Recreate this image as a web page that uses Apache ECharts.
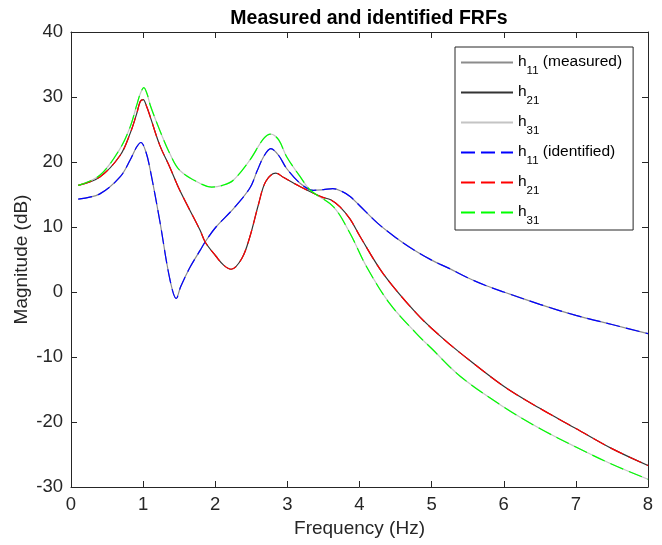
<!DOCTYPE html>
<html>
<head>
<meta charset="utf-8">
<style>
  html, body { margin: 0; padding: 0; background: #ffffff; }
  #chart { width: 662px; height: 545px; }
</style>
<script src="https://cdn.jsdelivr.net/npm/echarts@6/dist/echarts.min.js"></script>
</head>
<body>
<div id="chart"></div>
<script>
// ---- data ----
const xTicks = [0, 1, 2, 3, 4, 5, 6, 7, 8];
const yTicks = [-30, -20, -10, 0, 10, 20, 30, 40];

const h11Freq = [0.1, 0.4, 0.68, 0.82, 0.91, 0.97, 1.04, 1.1, 1.23, 1.37, 1.46, 1.52, 1.65, 1.79, 1.86, 2.01, 2.25, 2.48, 2.58, 2.67, 2.77, 2.88, 2.99, 3.18, 3.36, 3.5, 3.63, 3.75, 3.87, 4.0, 4.25, 4.5, 4.75, 5.0, 5.25, 5.5, 5.75, 6.0, 6.5, 7.0, 7.5, 8.0];
const h11Mag  = [14.3, 15.1, 17.7, 20.3, 22.3, 23.0, 21.5, 18.7, 11.0, 2.0, -1.0, 0.8, 3.8, 6.4, 7.7, 10.0, 12.8, 16.0, 18.6, 20.8, 22.05, 21.0, 19.0, 16.7, 15.65, 15.75, 15.9, 15.5, 14.7, 13.3, 10.6, 8.4, 6.5, 4.9, 3.6, 2.2, 1.0, 0.0, -1.9, -3.6, -5.0, -6.4];

const h21Freq = [0.1, 0.4, 0.68, 0.82, 0.91, 0.96, 1.0, 1.05, 1.1, 1.23, 1.37, 1.51, 1.79, 1.86, 2.01, 2.12, 2.22, 2.37, 2.48, 2.6, 2.7, 2.84, 2.95, 3.18, 3.48, 3.6, 3.73, 3.87, 4.01, 4.33, 4.79, 5.1, 5.4, 6.0, 6.5, 7.0, 7.5, 8.0];
const h21Mag  = [16.4, 17.7, 21.0, 24.4, 27.4, 29.3, 29.6, 28.5, 26.9, 22.6, 19.2, 15.6, 9.5, 7.7, 5.5, 4.1, 3.5, 5.2, 8.5, 13.5, 17.0, 18.3, 17.6, 16.2, 14.6, 14.2, 13.1, 11.2, 8.5, 2.8, -3.3, -6.6, -9.4, -14.5, -17.9, -21.0, -24.1, -26.7];

const h31Freq = [0.1, 0.4, 0.68, 0.82, 0.91, 0.96, 1.01, 1.06, 1.1, 1.23, 1.37, 1.51, 1.79, 1.95, 2.1, 2.25, 2.48, 2.67, 2.77, 2.88, 2.99, 3.18, 3.32, 3.64, 3.87, 4.1, 4.42, 4.79, 5.0, 5.4, 6.0, 6.5, 7.0, 7.5, 8.0];
const h31Mag  = [16.4, 17.95, 22.05, 25.4, 28.7, 30.5, 31.45, 30.3, 28.7, 24.9, 21.3, 18.7, 16.7, 16.15, 16.4, 17.2, 20.3, 23.6, 24.3, 23.4, 20.8, 17.7, 15.65, 13.1, 9.0, 3.85, -1.8, -6.4, -8.7, -13.0, -17.7, -21.0, -23.85, -26.5, -28.8];

const seriesNames = ['h11m', 'h21m', 'h31m', 'h11i', 'h21i', 'h31i'];
const legendLabels = {
  h11m: '{h|h}{s|11}{h| (measured)}',
  h21m: '{h|h}{s|21}',
  h31m: '{h|h}{s|31}',
  h11i: '{h|h}{s|11}{h| (identified)}',
  h21i: '{h|h}{s|21}',
  h31i: '{h|h}{s|31}'
};

function pairs(fs, vs) { return fs.map((f, i) => [f, vs[i]]); }

const FONT = '"Liberation Sans", Arial, Helvetica, sans-serif';
const TXT = '#262626';

const chart = echarts.init(document.getElementById('chart'), null, { renderer: 'canvas' });

function lineSeries(name, data, color, dashed, z) {
  return {
    name: name,
    type: 'line',
    data: data,
    symbol: 'none',
    showSymbol: false,
    smooth: 0.35,
    z: z,
    xAxisIndex: 0,
    yAxisIndex: 0,
    lineStyle: { color: color, width: 1.2, type: dashed ? [14, 6] : 'solid' },
    itemStyle: { color: color },
    emphasis: { disabled: true },
    animation: false
  };
}

const axisLineStyle = { show: true, onZero: false, lineStyle: { color: TXT, width: 1 } };
const tickStyle = { show: true, inside: true, length: 6, lineStyle: { color: TXT } };

const option = {
  backgroundColor: '#ffffff',
  animation: false,
  title: {
    text: 'Measured and identified FRFs',
    left: 364, top: 4, textAlign: 'center',
    textStyle: { fontFamily: FONT, fontSize: 19.5, fontWeight: 'bold', color: '#000000' }
  },
  grid: { left: 71, right: 14, top: 32, bottom: 58, containLabel: false },
  legend: {
    orient: 'vertical',
    left: 455, top: 47,
    padding: [7, 11, 3, 5],
    itemWidth: 52, itemHeight: 14,
    itemGap: 7,
    borderColor: '#262626', borderWidth: 1,
    backgroundColor: '#ffffff',
    data: seriesNames,
    formatter: (n) => legendLabels[n],
    itemStyle: { opacity: 0 },
    textStyle: {
      fontFamily: FONT, color: '#000000',
      rich: {
        h: { fontFamily: FONT, fontSize: 15.5, color: '#000000', lineHeight: 17, verticalAlign: 'top' },
        s: { fontFamily: FONT, fontSize: 11.5, color: '#000000', lineHeight: 12, padding: [11, 0, 0, 0], verticalAlign: 'top' }
      }
    },
    selectedMode: false
  },
  xAxis: [{
    type: 'value', min: 0, max: 8, interval: 1,
    name: 'Frequency (Hz)', nameLocation: 'middle', nameGap: 30,
    nameTextStyle: { fontFamily: FONT, fontSize: 19, color: TXT },
    axisLine: axisLineStyle,
    axisTick: tickStyle,
    axisLabel: { fontFamily: FONT, fontSize: 18.5, color: TXT, margin: 8 },
    splitLine: { show: false }
  }, {
    type: 'value', min: 0, max: 8, interval: 1, position: 'top',
    axisLine: axisLineStyle,
    axisTick: tickStyle,
    axisLabel: { show: false },
    splitLine: { show: false }
  }],
  yAxis: [{
    type: 'value', min: -30, max: 40, interval: 10,
    name: 'Magnitude (dB)', nameLocation: 'middle', nameGap: 40,
    nameMoveOverlap: false,
    nameTextStyle: { fontFamily: FONT, fontSize: 19, color: TXT },
    axisLine: axisLineStyle,
    axisTick: tickStyle,
    axisLabel: { fontFamily: FONT, fontSize: 18.5, color: TXT, margin: 8 },
    splitLine: { show: false }
  }, {
    type: 'value', min: -30, max: 40, interval: 10, position: 'right',
    axisLine: axisLineStyle,
    axisTick: tickStyle,
    axisLabel: { show: false },
    splitLine: { show: false }
  }],
  series: [
    lineSeries('h11m', pairs(h11Freq, h11Mag), '#8c8c8c', false, 2),
    lineSeries('h21m', pairs(h21Freq, h21Mag), '#333333', false, 2),
    lineSeries('h31m', pairs(h31Freq, h31Mag), '#c4c4c4', false, 2),
    lineSeries('h11i', pairs(h11Freq, h11Mag), '#0000ff', true, 3),
    lineSeries('h21i', pairs(h21Freq, h21Mag), '#ff0000', true, 3),
    lineSeries('h31i', pairs(h31Freq, h31Mag), '#00ff00', true, 3)
  ]
};

chart.setOption(option);
</script>
</body>
</html>
